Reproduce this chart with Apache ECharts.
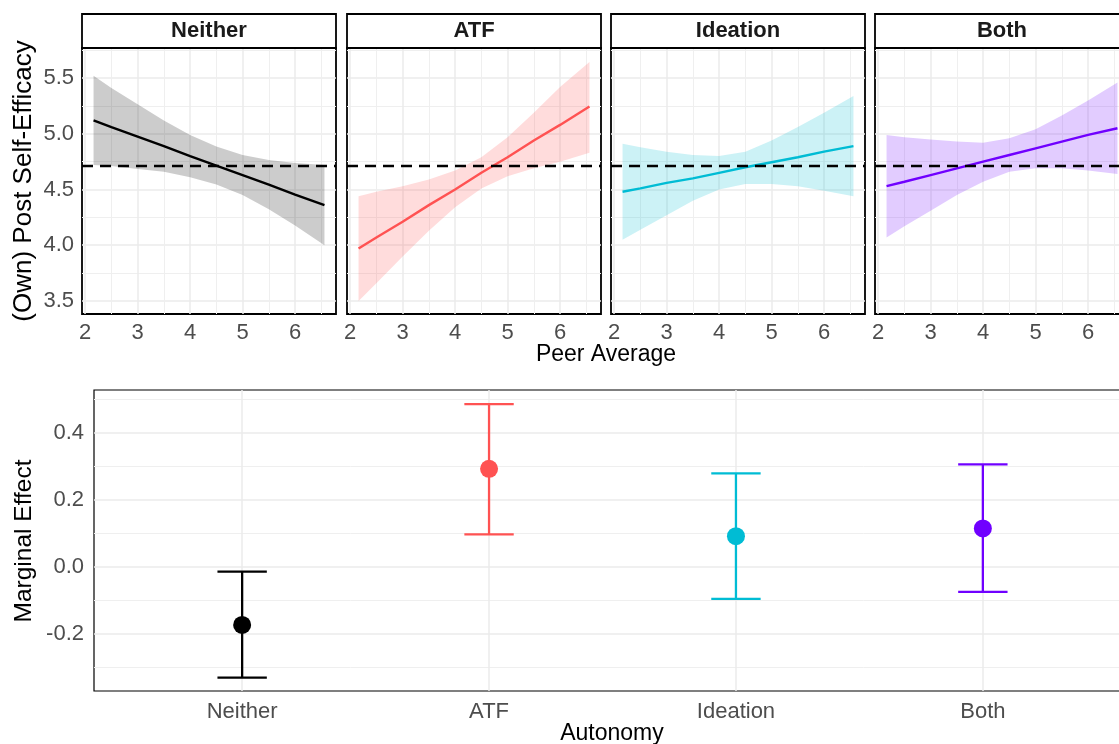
<!DOCTYPE html>
<html><head><meta charset="utf-8">
<script src="https://cdn.jsdelivr.net/npm/echarts@6/dist/echarts.min.js"></script>
<style>html,body{margin:0;padding:0;background:#fff}#c{width:1119px;height:744px}</style>
</head><body><div id="c"></div>
<script>
// ---------- data ----------
const panels = ['Neither', 'ATF', 'Ideation', 'Both'];
const colors = ['#000000', '#FF5252', '#00BCD4', '#7000FF'];
const bandFills = ['rgba(0,0,0,0.2)', 'rgba(255,82,82,0.2)', 'rgba(0,188,212,0.2)', 'rgba(112,0,255,0.2)'];

const peerX = [2.16, 2.5, 3, 3.5, 4, 4.5, 5, 5.5, 6, 6.56];

const neitherFit   = [5.12, 5.06, 4.975, 4.89, 4.80, 4.715, 4.63, 4.545, 4.455, 4.36];
const neitherLower = [4.72, 4.71, 4.685, 4.66, 4.61, 4.546, 4.45, 4.324, 4.177, 4.00];
const neitherUpper = [5.52, 5.41, 5.265, 5.12, 4.99, 4.886, 4.81, 4.764, 4.737, 4.72];

const atfFit   = [3.97, 4.07, 4.21, 4.36, 4.50, 4.65, 4.79, 4.94, 5.08, 5.246];
const atfLower = [3.50, 3.66, 3.90, 4.13, 4.34, 4.51, 4.62, 4.69, 4.75, 4.83];
const atfUpper = [4.44, 4.48, 4.53, 4.59, 4.67, 4.79, 4.97, 5.19, 5.42, 5.645];

const ideationFit   = [4.48, 4.51, 4.56, 4.60, 4.65, 4.70, 4.745, 4.79, 4.84, 4.89];
const ideationLower = [4.05, 4.14, 4.27, 4.40, 4.50, 4.55, 4.55, 4.53, 4.49, 4.44];
const ideationUpper = [4.91, 4.88, 4.84, 4.81, 4.80, 4.84, 4.94, 5.06, 5.19, 5.34];

const bothFit   = [4.53, 4.57, 4.63, 4.69, 4.75, 4.81, 4.87, 4.93, 4.99, 5.05];
const bothLower = [4.07, 4.17, 4.31, 4.45, 4.57, 4.66, 4.69, 4.69, 4.67, 4.64];
const bothUpper = [4.99, 4.97, 4.95, 4.93, 4.92, 4.96, 5.04, 5.165, 5.30, 5.46];

const refLine = 4.71;

const xTicks = [2, 3, 4, 5, 6];
const xMinorTicks = [2.5, 3.5, 4.5, 5.5, 6.5];
const yTicks = [3.5, 4.0, 4.5, 5.0, 5.5];
const yMinorTicks = [3.75, 4.25, 4.75, 5.25, 5.75];

const autonomy = ['Neither', 'ATF', 'Ideation', 'Both'];
const effect  = [-0.173, 0.293, 0.092, 0.115];
const effLow  = [-0.330, 0.097, -0.095, -0.074];
const effHigh = [-0.014, 0.486, 0.279, 0.306];
const meTicks = [-0.2, 0.0, 0.2, 0.4];
const meMinorTicks = [-0.3, -0.1, 0.1, 0.3, 0.5];

// ---------- layout ----------
const FONT = 'Liberation Sans, Arial, Helvetica, sans-serif';
const fits = [neitherFit, atfFit, ideationFit, bothFit];
const lows = [neitherLower, atfLower, ideationLower, bothLower];
const ups = [neitherUpper, atfUpper, ideationUpper, bothUpper];
const panelLefts = [82, 347, 611, 875];
const panelW = 254, panelTop = 48, panelH = 266;
const stripTop = 14, stripH = 34;

const grids = [], xAxes = [], yAxes = [], series = [], graphics = [];
const majorLine = {show: true, lineStyle: {color: '#EBEBEB', width: 1.5}};
const minorLine = {show: true, lineStyle: {color: '#EFEFEF', width: 1}};

panels.forEach((p, i) => {
  grids.push({left: panelLefts[i], top: panelTop, width: panelW, height: panelH, outerBoundsMode: 'none',
    containLabel: false, show: true, borderColor: '#000', borderWidth: 1.8, backgroundColor: 'rgba(0,0,0,0)'});
});
grids.push({left: 94, top: 390, width: 1037, height: 301, outerBoundsMode: 'none', containLabel: false,
  show: true, borderColor: '#000', borderWidth: 1.2, backgroundColor: 'rgba(0,0,0,0)'});

// major axes (index 0..4)
panels.forEach((p, i) => {
  xAxes.push({type: 'value', gridIndex: i, min: 1.94, max: 6.78, position: 'bottom',
    axisLine: {show: false}, axisTick: {show: false, customValues: xTicks},
    axisLabel: {show: true, customValues: xTicks, color: '#4D4D4D', fontSize: 22, fontFamily: FONT, margin: 8,
      hideOverlap: false},
    splitLine: majorLine});
  yAxes.push({type: 'value', gridIndex: i, min: 3.383, max: 5.77, position: 'left',
    axisLine: {show: false}, axisTick: {show: false, customValues: yTicks},
    axisLabel: {show: i === 0, customValues: yTicks, color: '#4D4D4D', fontSize: 22, fontFamily: FONT, margin: 8,
      formatter: v => v.toFixed(1)},
    splitLine: majorLine});
});
xAxes.push({type: 'value', gridIndex: 4, min: 0.4, max: 4.6, position: 'bottom',
  axisLine: {show: false}, axisTick: {show: false, customValues: [1, 2, 3, 4]},
  axisLabel: {customValues: [1, 2, 3, 4], color: '#4D4D4D', fontSize: 22, fontFamily: FONT, margin: 10,
    formatter: v => autonomy[Math.round(v) - 1]},
  splitLine: majorLine});
yAxes.push({type: 'value', gridIndex: 4, min: -0.370, max: 0.528, position: 'left',
  axisLine: {show: false}, axisTick: {show: false, customValues: meTicks},
  axisLabel: {customValues: meTicks, color: '#4D4D4D', fontSize: 22, fontFamily: FONT, margin: 10,
    formatter: v => v.toFixed(1)},
  splitLine: majorLine});

// minor axes (index 5..9)
panels.forEach((p, i) => {
  xAxes.push({type: 'value', gridIndex: i, min: 1.94, max: 6.78, position: 'top',
    axisLine: {show: false}, axisTick: {show: false, customValues: xMinorTicks},
    axisLabel: {show: false}, splitLine: minorLine});
  yAxes.push({type: 'value', gridIndex: i, min: 3.383, max: 5.77, position: 'right',
    axisLine: {show: false}, axisTick: {show: false, customValues: yMinorTicks},
    axisLabel: {show: false}, splitLine: minorLine});
});
xAxes.push({type: 'value', gridIndex: 4, min: 0.4, max: 4.6, position: 'top',
  axisLine: {show: false}, axisTick: {show: false}, axisLabel: {show: false}, splitLine: {show: false}});
yAxes.push({type: 'value', gridIndex: 4, min: -0.370, max: 0.528, position: 'right',
  axisLine: {show: false}, axisTick: {show: false, customValues: meMinorTicks},
  axisLabel: {show: false}, splitLine: minorLine});

// top panel series
panels.forEach((p, i) => {
  series.push({type: 'custom', xAxisIndex: i, yAxisIndex: i, silent: true, z: 2,
    data: peerX.map((x, k) => [x, lows[i][k], ups[i][k]]),
    encode: {x: 0, y: [1, 2]},
    renderItem: (params, api) => {
      if (params.dataIndex !== 0) return null;
      const pts = [];
      for (let k = 0; k < peerX.length; k++) pts.push(api.coord([peerX[k], ups[i][k]]));
      for (let k = peerX.length - 1; k >= 0; k--) pts.push(api.coord([peerX[k], lows[i][k]]));
      return {type: 'polygon', shape: {points: pts}, style: {fill: bandFills[i]}};
    }});
  series.push({type: 'line', xAxisIndex: i, yAxisIndex: i, data: peerX.map((x, k) => [x, fits[i][k]]),
    symbol: 'none', silent: true, lineStyle: {color: colors[i], width: 2.4}, z: 3,
    markLine: {silent: true, symbol: ['none', 'none'], label: {show: false},
      lineStyle: {color: '#000', width: 2.4, type: [11, 7]}, data: [{yAxis: refLine}]}});
});

// bottom panel: error bars + points
series.push({type: 'custom', xAxisIndex: 4, yAxisIndex: 4, silent: true, z: 3,
  data: autonomy.map((c, k) => [k + 1, effLow[k], effHigh[k]]),
  encode: {x: 0, y: [1, 2]},
  renderItem: (params, api) => {
    const x = api.value(0);
    const lo = api.coord([x, api.value(1)]);
    const hi = api.coord([x, api.value(2)]);
    const hw = api.size([0.2, 0])[0] / 2;
    const st = {stroke: colors[params.dataIndex], lineWidth: 2.3};
    return {type: 'group', children: [
      {type: 'line', shape: {x1: hi[0], y1: hi[1], x2: lo[0], y2: lo[1]}, style: st},
      {type: 'line', shape: {x1: hi[0] - hw, y1: hi[1], x2: hi[0] + hw, y2: hi[1]}, style: st},
      {type: 'line', shape: {x1: lo[0] - hw, y1: lo[1], x2: lo[0] + hw, y2: lo[1]}, style: st}
    ]};
  }});
series.push({type: 'scatter', xAxisIndex: 4, yAxisIndex: 4, silent: true, z: 4, symbolSize: 18,
  data: autonomy.map((c, k) => ({value: [k + 1, effect[k]], itemStyle: {color: colors[k], opacity: 1}}))});

// strips
panels.forEach((p, i) => {
  graphics.push({type: 'rect', z: 10, shape: {x: panelLefts[i], y: stripTop, width: panelW, height: stripH},
    style: {fill: '#fff', stroke: '#000', lineWidth: 1.8}});
  graphics.push({type: 'text', z: 11, x: panelLefts[i] + panelW / 2, y: stripTop + stripH / 2,
    style: {text: p, fill: '#1A1A1A', font: 'bold 22px ' + FONT, align: 'center', verticalAlign: 'middle',
      textAlign: 'center', textVerticalAlign: 'middle'}});
});
// axis titles
function title(txt, x, y, size, rot) {
  graphics.push({type: 'text', z: 11, x: x, y: y, rotation: rot || 0,
    style: {text: txt, fill: '#000', font: size + 'px ' + FONT, align: 'center', verticalAlign: 'middle',
      textAlign: 'center', textVerticalAlign: 'middle'}});
}
title('Peer Average', 606, 355, 23);
title('Autonomy', 612, 734, 23);
title('(Own) Post Self-Efficacy', 24, 181, 26, Math.PI / 2);
title('Marginal Effect', 24, 541, 24.5, Math.PI / 2);

const chart = echarts.init(document.getElementById('c'), null, {renderer: 'canvas'});
chart.setOption({
  animation: false,
  backgroundColor: '#fff',
  textStyle: {fontFamily: FONT},
  grid: grids, xAxis: xAxes, yAxis: yAxes, series: series, graphic: graphics
});
</script></body></html>
